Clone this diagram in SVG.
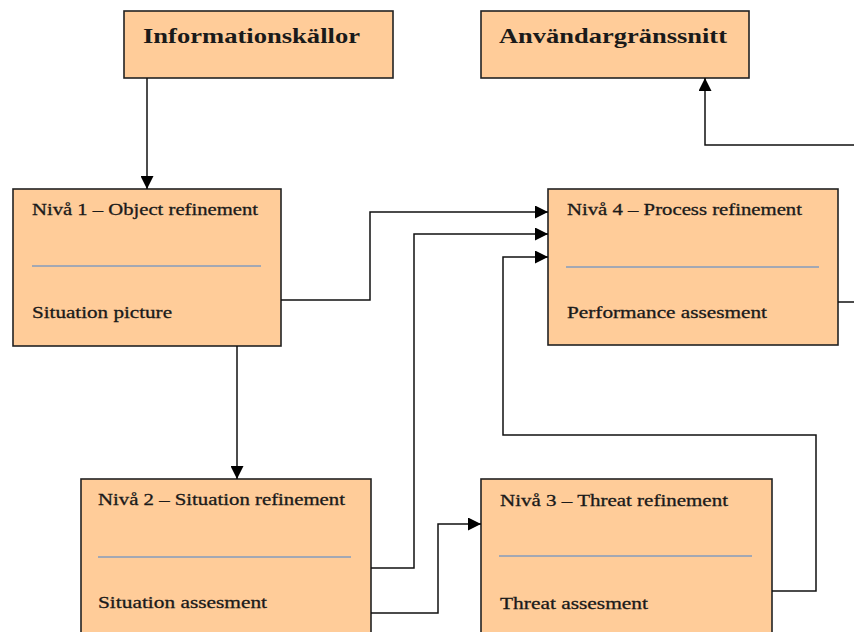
<svg xmlns="http://www.w3.org/2000/svg" width="854" height="632" viewBox="0 0 854 632">
<defs>
<marker id="arr" viewBox="0 0 10 10" refX="10" refY="5" markerWidth="13" markerHeight="13" markerUnits="userSpaceOnUse" orient="auto">
<path d="M0,0 L10,5 L0,10 z" fill="#000"/>
</marker>
<style>
.box{fill:#FFCC99;stroke:#222;stroke-width:1.6}
.div{stroke:#a3a8b4;stroke-width:2}
.t{font-family:"Liberation Serif",serif;font-size:16.5px;fill:#1a1a1a;stroke:#1a1a1a;stroke-width:0.3}
.h{font-family:"Liberation Serif",serif;font-size:22px;font-weight:bold;fill:#1a1a1a}
.c{fill:none;stroke:#111;stroke-width:1.5}
</style>
</defs>
<rect width="854" height="632" fill="#fff"/>
<g id="informationskallor">
<rect class="box" x="124" y="11" width="269" height="67"/>
<text class="h" x="143" y="43" textLength="217" lengthAdjust="spacingAndGlyphs">Informationskällor</text>
</g>
<g id="anvandargranssnitt">
<rect class="box" x="481" y="11" width="268" height="67"/>
<text class="h" x="499" y="43" textLength="228" lengthAdjust="spacingAndGlyphs">Användargränssnitt</text>
</g>
<g id="niva1">
<rect class="box" x="13" y="189" width="268" height="157"/>
<text class="t" x="32" y="215" textLength="226" lengthAdjust="spacingAndGlyphs">Nivå 1 – Object refinement</text>
<line class="div" x1="32" y1="266" x2="261" y2="266"/>
<text class="t" x="32" y="318" textLength="140" lengthAdjust="spacingAndGlyphs">Situation picture</text>
</g>
<g id="niva4">
<rect class="box" x="548" y="189" width="290" height="156"/>
<text class="t" x="567" y="215" textLength="235" lengthAdjust="spacingAndGlyphs">Nivå 4 – Process refinement</text>
<line class="div" x1="566" y1="267" x2="819" y2="267"/>
<text class="t" x="567" y="318" textLength="200" lengthAdjust="spacingAndGlyphs">Performance assesment</text>
</g>
<g id="niva2">
<rect class="box" x="81" y="479" width="290" height="160"/>
<text class="t" x="98" y="505" textLength="247" lengthAdjust="spacingAndGlyphs">Nivå 2 – Situation refinement</text>
<line class="div" x1="98" y1="557" x2="351" y2="557"/>
<text class="t" x="98" y="608" textLength="169" lengthAdjust="spacingAndGlyphs">Situation assesment</text>
</g>
<g id="niva3">
<rect class="box" x="481" y="479" width="291" height="160"/>
<text class="t" x="500" y="506" textLength="228" lengthAdjust="spacingAndGlyphs">Nivå 3 – Threat refinement</text>
<line class="div" x1="499" y1="556" x2="752" y2="556"/>
<text class="t" x="500" y="609" textLength="148" lengthAdjust="spacingAndGlyphs">Threat assesment</text>
</g>
<g id="connectors">
<path class="c" d="M147,78 V189" marker-end="url(#arr)"/>
<path class="c" d="M237,346 V479" marker-end="url(#arr)"/>
<path class="c" d="M281,300 H370 V212 H548" marker-end="url(#arr)"/>
<path class="c" d="M371,568 H414 V234 H548" marker-end="url(#arr)"/>
<path class="c" d="M772,591 H816 V435 H503 V257 H548" marker-end="url(#arr)"/>
<path class="c" d="M371,613 H438 V524 H481" marker-end="url(#arr)"/>
<path class="c" d="M838,302 H856"/>
<path class="c" d="M856,145 H705 V78" marker-end="url(#arr)"/>
</g>
</svg>
